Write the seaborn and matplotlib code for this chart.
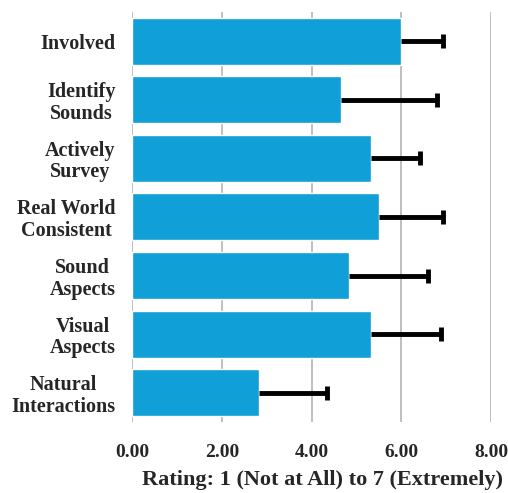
import matplotlib
matplotlib.use("Agg")
import matplotlib.pyplot as plt
import seaborn as sns
import pandas as pd
import numpy as np
from matplotlib.ticker import FormatStrFormatter

categories = ["Involved", "Identify\nSounds", "Actively\nSurvey", "Real World\nConsistent",
              "Sound\nAspects", "Visual\nAspects", "Natural\nInteractions"]
means = [6.00, 4.66, 5.33, 5.50, 4.83, 5.33, 2.83]
errors = [0.93, 2.13, 1.08, 1.43, 1.76, 1.56, 1.52]
xticks = [0, 2, 4, 6, 8]

sns.set_theme(style="white")
plt.rcParams['font.family'] = ['Liberation Serif', 'DejaVu Serif']
plt.rcParams['font.weight'] = 'bold'

df = pd.DataFrame({"cat": categories, "mean": means})

fig = plt.figure(figsize=(5.08, 4.93), dpi=100)
ax = fig.add_axes([0.26, 0.144, 0.7065, 0.832])

grid_c = "#b4b4b4"
for xv in xticks:
    ax.axvline(xv, color=grid_c, lw=1.2, zorder=0)

sns.barplot(data=df, y="cat", x="mean", orient="h", color="#109fd7",
            saturation=1, width=0.8, ax=ax, zorder=2)

ypos = np.arange(len(means))
ends = np.array(means) + np.array(errors)
ax.errorbar(means, ypos, xerr=[np.zeros(len(errors)), errors],
            fmt="none", ecolor="black", elinewidth=3.5, capsize=0, zorder=3)
ax.scatter(ends, ypos, marker="|", s=100, linewidths=3.5, color="black", zorder=4)

ax.set_xlim(0, 8)
ax.set_ylim(6.5, -0.5)
ax.set_xticks(xticks)
ax.xaxis.set_major_formatter(FormatStrFormatter("%.2f"))
for s in ax.spines.values():
    s.set_visible(False)
ax.tick_params(axis="x", length=4, color=grid_c, width=1.2, pad=12, labelsize=14)
ax.tick_params(axis="y", length=0, pad=12, labelsize=14.5)
for lab in ax.get_yticklabels():
    lab.set_fontweight("bold")
    lab.set_multialignment("center")
    lab.set_linespacing(1.1)
for lab in ax.get_xticklabels():
    lab.set_fontweight("bold")
ax.set_ylabel("")
ax.set_xlabel("Rating: 1 (Not at All) to 7 (Extremely)", fontsize=16, fontweight="bold")
ax.xaxis.set_label_coords(0.53, -0.117)

fig.savefig("out.png", dpi=100)
